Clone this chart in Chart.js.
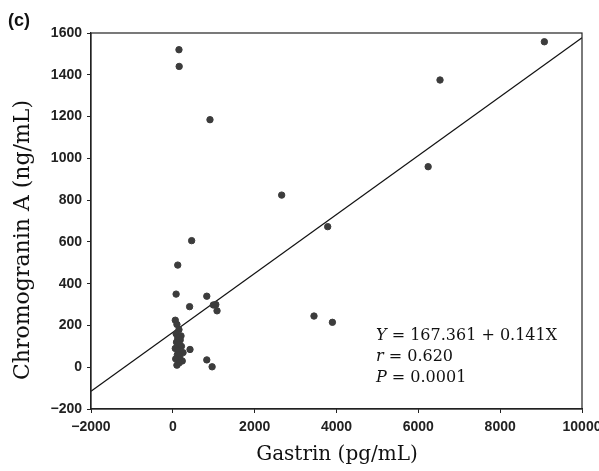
<!DOCTYPE html>
<html>
<head>
<meta charset="utf-8">
<script src="https://cdn.jsdelivr.net/npm/chart.js@4.4.0/dist/chart.umd.min.js"></script>
<style>
  html, body { margin: 0; padding: 0; background: #fff; }
  #wrap { width: 599px; height: 471px; position: relative; }
</style>
</head>
<body>
<div id="wrap"><canvas id="myChart" width="599" height="471"></canvas></div>
<script>
// gastrin (pg/mL) vs chromogranin A (ng/mL)
const gastrin = [150, 155, 908, 2660, 3785, 460, 120, 9080, 6530, 6240, 3450, 3900,
  80, 830, 410, 1050, 990, 1080, 60, 100, 150, 80, 200, 120, 180, 90, 140, 210,
  60, 130, 250, 420, 830, 960, 110, 170, 70, 230, 150, 100];
const chromograninA = [1520, 1440, 1185, 824, 673, 606, 489, 1558, 1375, 960, 245, 215,
  350, 340, 290, 300, 298, 270, 225, 205, 180, 160, 150, 140, 130, 120, 110, 100,
  90, 80, 70, 85, 35, 2, 60, 50, 40, 30, 20, 10];

// regression from the figure
const intercept = 167.361;
const slope = 0.141;
const statLines = ["Y = 167.361 + 0.141X", "r = 0.620", "P = 0.0001"];

const xMin = -2000, xMax = 10000, xStep = 2000;
const yMin = -200, yMax = 1600, yStep = 200;

let points = gastrin.map((g, i) => ({ x: g, y: chromograninA[i] }));
let fitLine = [xMin, xMax].map(x => ({ x: x, y: intercept + slope * x }));

const frame = {
  id: "frame",
  afterDatasetsDraw(chart) {
    const ctx = chart.ctx;
    const a = chart.chartArea;
    ctx.save();
    ctx.strokeStyle = "#222";
    ctx.lineWidth = 1.2;
    ctx.strokeRect(a.left, a.top, a.right - a.left, a.bottom - a.top);

    ctx.fillStyle = "#111";
    ctx.font = "bold 18px 'Liberation Sans', Arial, sans-serif";
    ctx.textAlign = "left";
    ctx.textBaseline = "middle";
    ctx.fillText("(c)", 8, 21);

    ctx.font = "20px 'DejaVu Serif', serif";
    ctx.textAlign = "center";
    ctx.fillText("Gastrin (pg/mL)", 337, 455);

    ctx.save();
    ctx.translate(23, 240);
    ctx.rotate(-Math.PI / 2);
    ctx.font = "22px 'DejaVu Serif', serif";
    ctx.fillText("Chromogranin A (ng/mL)", 0, 0);
    ctx.restore();

    // stats text, italic letters
    ctx.textAlign = "left";
    const rows = [["Y", statLines[0].slice(1)], ["r", statLines[1].slice(1)], ["P", statLines[2].slice(1)]];
    rows.forEach((r, i) => {
      const y = 336 + i * 21;
      ctx.font = "italic 16px 'DejaVu Serif', serif";
      ctx.fillText(r[0], 376, y);
      let w = ctx.measureText(r[0]).width;
      ctx.font = "16px 'DejaVu Serif', serif";
      ctx.fillText(r[1], 376 + w, y);
    });
    ctx.restore();
  }
};

new Chart("myChart", {
  type: "scatter",
  data: {
    datasets: [
      {
        data: points,
        backgroundColor: "#3c3c3c",
        borderColor: "#3c3c3c",
        pointRadius: 3.2,
        pointHoverRadius: 3.2
      },
      {
        type: "line",
        data: fitLine,
        borderColor: "#111",
        borderWidth: 1.2,
        pointRadius: 0,
        fill: false
      }
    ]
  },
  options: {
    responsive: false,
    animation: false,
    layout: { padding: { left: 0, right: 17, top: 33, bottom: 0 } },
    plugins: { legend: { display: false }, tooltip: { enabled: false } },
    scales: {
      x: {
        type: "linear",
        min: xMin, max: xMax,
        ticks: { stepSize: xStep, color: "#222", padding: 6,
          font: { family: "'Liberation Sans', Arial, sans-serif", size: 14, weight: "bold" },
          callback: v => v < 0 ? "\u2212" + Math.abs(v) : String(v) },
        grid: { drawOnChartArea: false, tickLength: 4, color: "#222" },
        border: { color: "#222", width: 1.2 },
        afterFit: s => { s.height = 62; s.paddingLeft = 0; s.paddingRight = 0; }
      },
      y: {
        type: "linear",
        min: yMin, max: yMax,
        ticks: { stepSize: yStep, color: "#222", padding: 5,
          font: { family: "'Liberation Sans', Arial, sans-serif", size: 14, weight: "bold" },
          callback: v => v < 0 ? "\u2212" + Math.abs(v) : String(v) },
        grid: { drawOnChartArea: false, tickLength: 4, color: "#222" },
        border: { color: "#222", width: 1.2 },
        afterFit: s => { s.width = 91; s.paddingTop = 0; s.paddingBottom = 0; }
      }
    }
  },
  plugins: [frame]
});
</script>
</body>
</html>
